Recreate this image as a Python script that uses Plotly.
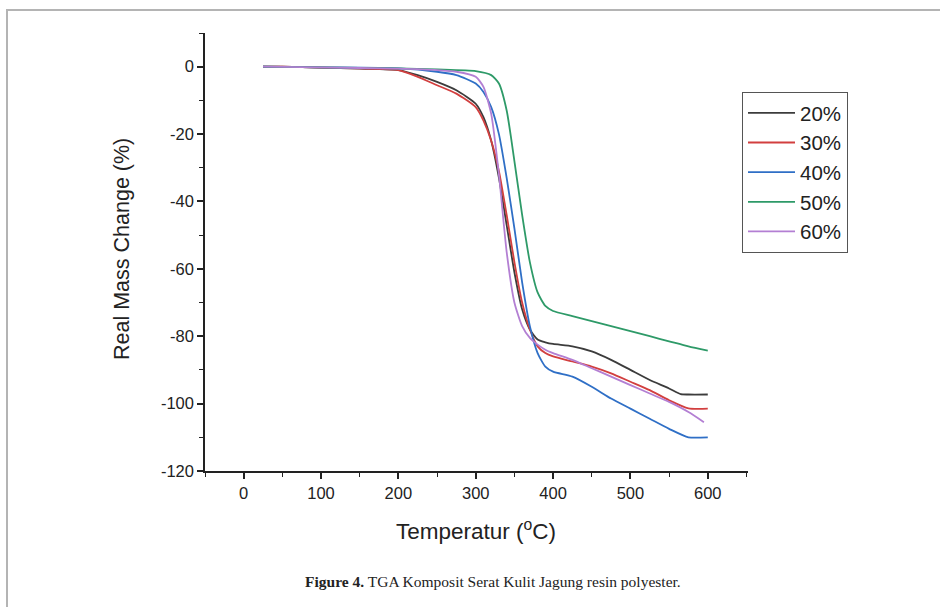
import plotly.graph_objects as go

temp_20 = [25, 50, 100, 150, 200, 225, 250, 275, 300, 310, 320, 330, 340, 350, 360, 370, 380, 390, 400, 425, 450, 475, 500, 525, 550, 565, 575, 600]
mass_20 = [0, 0, -0.3, -0.6, -1.0, -2.5, -4.5, -7, -11, -15, -22, -33, -47, -61, -72, -78, -81, -81.8, -82.3, -83, -84.5, -87, -90, -93, -95.5, -97.2, -97.3, -97.3]

temp_30 = [25, 50, 100, 150, 200, 225, 250, 275, 300, 310, 320, 330, 340, 350, 360, 370, 380, 390, 400, 425, 450, 475, 500, 525, 550, 575, 600]
mass_30 = [0, 0, -0.3, -0.5, -1.0, -3, -5.5, -8, -12, -16, -22, -31, -44, -58, -70, -78, -83, -85, -86, -87.5, -89, -91, -93.5, -96, -99, -101.4, -101.5]

temp_40 = [25, 100, 200, 250, 275, 300, 310, 320, 330, 340, 350, 360, 370, 380, 390, 400, 425, 450, 475, 500, 525, 550, 575, 600]
mass_40 = [0, -0.2, -0.5, -1.5, -2.5, -5, -7.5, -12, -20, -33, -48, -64, -77, -85, -89, -90.5, -92, -95, -98.5, -101.5, -104.5, -107.5, -110, -110]

temp_50 = [25, 100, 200, 250, 300, 320, 330, 340, 350, 360, 370, 380, 390, 400, 425, 450, 475, 500, 525, 550, 575, 600]
mass_50 = [0, -0.2, -0.5, -0.8, -1.3, -2.5, -5, -13, -28, -44, -58, -67, -71, -72.5, -74, -75.5, -77, -78.5, -80, -81.5, -83, -84.3]

temp_60 = [25, 100, 200, 250, 275, 300, 310, 320, 330, 340, 350, 360, 370, 380, 390, 400, 425, 450, 475, 500, 525, 550, 575, 595]
mass_60 = [0, -0.2, -0.6, -1.0, -1.5, -3, -6, -14, -32, -55, -70, -77, -80.5, -82.5, -84, -85, -87, -89.5, -92, -94.5, -97, -99.5, -102.5, -105.5]

series_names = ["20%", "30%", "40%", "50%", "60%"]
series_temps = [temp_20, temp_30, temp_40, temp_50, temp_60]
series_mass = [mass_20, mass_30, mass_40, mass_50, mass_60]
colors = ["#3c3c3c", "#d23f3f", "#2f6fc6", "#2e9a68", "#b37fd3"]

x_ticks = [0, 100, 200, 300, 400, 500, 600]
y_ticks = [0, -20, -40, -60, -80, -100, -120]

fig = go.Figure()
for name, t, m, c in zip(series_names, series_temps, series_mass, colors):
    fig.add_trace(go.Scatter(x=t, y=m, mode="lines", name=name,
                             line=dict(color=c, width=1.8, shape="spline", smoothing=0.6)))

font_fam = "Liberation Sans, Arial, sans-serif"
L, R, T, B = 205, 748, 33, 471
PW, PH = R - L, B - T


def px(x):
    return (x - L) / PW


def py(y):
    return (B - y) / PH


fig.update_layout(
    width=940, height=607,
    margin=dict(l=L, r=940 - R, t=T, b=607 - B),
    paper_bgcolor="white", plot_bgcolor="white",
    showlegend=True,
    legend=dict(x=px(742), y=py(92), xanchor="left", yanchor="top",
                bordercolor="#555", borderwidth=1, bgcolor="white",
                font=dict(family=font_fam, size=20.5, color="#222"),
                tracegroupgap=0, itemwidth=47),
    font=dict(family=font_fam, color="#222"),
)
fig.update_xaxes(range=[-50, 652], tickvals=x_ticks, ticktext=[str(v) for v in x_ticks],
                 showline=True, linecolor="#222", linewidth=1.5, ticks="outside",
                 ticklen=6, tickwidth=1.5, tickcolor="#222", showgrid=False, zeroline=False,
                 tickfont=dict(size=16.5, family=font_fam, color="#222"),
                 minor=dict(tickvals=[-50, 50, 150, 250, 350, 450, 550, 650], ticks="outside",
                            ticklen=4, tickwidth=1.2, tickcolor="#222"))
fig.update_yaxes(range=[-120, 10], tickvals=y_ticks, ticktext=[str(v) for v in y_ticks],
                 showline=True, linecolor="#222", linewidth=1.5, ticks="outside",
                 ticklen=6, tickwidth=1.5, tickcolor="#222", showgrid=False, zeroline=False,
                 tickfont=dict(size=16.5, family=font_fam, color="#222"),
                 minor=dict(tickvals=[10, -10, -30, -50, -70, -90, -110], ticks="outside",
                            ticklen=4, tickwidth=1.2, tickcolor="#222"))

fig.add_annotation(text="Temperatur (<sup>o</sup>C)", xref="paper", yref="paper",
                   x=px(476), y=py(530), xanchor="center", yanchor="middle",
                   showarrow=False, font=dict(size=22.5, family=font_fam, color="#222"))
fig.add_annotation(text="Real Mass Change (%)", xref="paper", yref="paper",
                   x=px(122), y=py(249), xanchor="center", yanchor="middle",
                   textangle=-90, showarrow=False, font=dict(size=21.5, family=font_fam, color="#222"))
fig.add_annotation(text="<b>Figure 4.</b> TGA Komposit Serat Kulit Jagung resin polyester.",
                   xref="paper", yref="paper",
                   x=px(493), y=py(581), xanchor="center", yanchor="middle",
                   showarrow=False, font=dict(size=15.5, family="Liberation Serif, serif", color="#222"))

fig.add_shape(type="rect", xref="paper", yref="paper",
              x0=px(7), y0=-2, x1=2, y1=py(10),
              line=dict(color="#b4b4b4", width=2), fillcolor="rgba(0,0,0,0)", layer="below")

fig.write_html("out.html", config={"displayModeBar": False},
               post_script="document.body.style.margin='0';document.body.style.padding='0';")
